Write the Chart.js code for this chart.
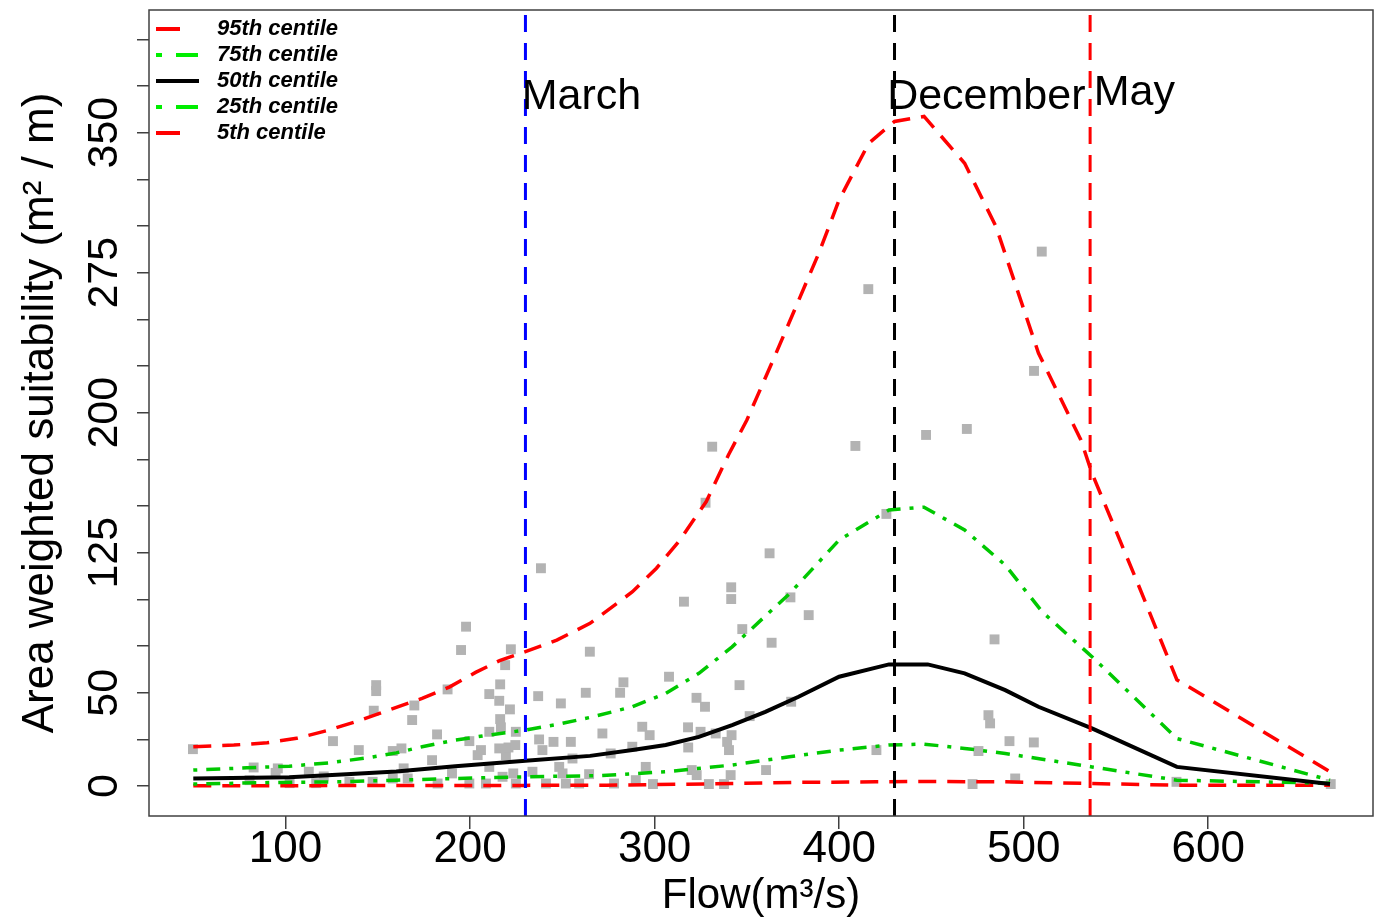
<!DOCTYPE html>
<html>
<head>
<meta charset="utf-8">
<script src="https://cdn.jsdelivr.net/npm/chart.js@4.4.1/dist/chart.umd.min.js"></script>
<style>
  body { margin: 0; background: #fff; }
  #wrap { width: 1380px; height: 922px; }
</style>
</head>
<body>
<div id="wrap"><canvas id="grafico"></canvas></div>
<script>
// observed flow (m3/s) and area weighted suitability
var flowObs = [49.8, 82.7, 95.8, 94.6, 112.6, 120.7, 80.5, 102.2, 116.6, 125.7, 139.7, 134.6,
  149.1, 149.1, 147.8, 147.2, 158.1, 158.1, 162.8, 164.0, 166.2, 169.8, 168.6, 179.4, 182.1,
  182.4, 187.8, 190.2, 195.1, 197.8, 199.6, 199.6, 204.1, 205.9, 208.6, 210.4, 210.4, 210.4,
  215.8, 216.3, 216.3, 216.7, 215.8, 219.4, 220.8, 217.6, 219.0, 221.6, 222.1, 223.4, 224.8,
  224.5, 224.8, 233.8, 236.9, 237.4, 238.4, 239.2, 241.1, 245.2, 248.3, 249.2, 250.1, 251.9,
  254.6, 255.5, 259.1, 262.7, 264.9, 264.5, 271.7, 276.2, 278.0, 281.3, 283.1, 287.9, 289.8,
  293.3, 295.2, 297.3, 299.1, 307.8, 315.9, 318.1, 318.2, 320.1, 322.8, 322.7, 327.3, 324.9,
  327.6, 331.2, 329.4, 333.1, 337.6, 339.3, 340.3, 341.2, 341.7, 341.5, 341.5, 346.0, 347.5,
  351.5, 360.4, 362.3, 363.4, 374.0, 373.6, 383.5, 408.8, 415.8, 420.2, 425.6, 447.1, 469.2,
  472.3, 475.5, 480.9, 481.8, 484.2, 492.3, 495.4, 505.5, 505.6, 509.8, 582.8, 666.4];
var suitObs = [19.8, 10.0, 9.5, 7.1, 7.7, 5.2, 3.2, 1.6, 1.6, 24.1, 19.3, 2.3,
  54.1, 50.9, 40.4, 2.3, 18.8, 4.1, 20.2, 9.5, 4.1, 43.2, 35.4, 13.9, 27.7,
  1.4, 51.8, 6.8, 72.9, 85.4, 24.1, 1.4, 16.6, 19.3, 1.4, 49.3, 29.1, 10.3,
  45.7, 54.5, 35.9, 31.5, 20.2, 16.6, 20.7, 5.0, 64.8, 41.1, 73.3, 6.8, 29.1,
  22.0, 1.4, 7.7, 48.2, 25.0, 116.7, 19.3, 1.4, 23.7, 10.3, 44.3, 6.8, 1.4,
  23.7, 14.8, 1.4, 50.0, 72.0, 6.4, 28.2, 17.5, 1.4, 50.0, 55.6, 21.1, 3.2,
  31.8, 10.3, 27.3, 1.1, 58.6, 98.8, 31.5, 20.7, 8.6, 5.9, 47.3, 42.5, 29.1,
  151.8, 181.8, 1.1, 28.2, 1.1, 23.7, 19.3, 5.9, 27.3, 106.5, 100.2, 54.1, 84.1,
  37.5, 8.6, 124.7, 76.8, 45.2, 101.1, 91.6, 182.2, 266.2, 19.3, 145.8, 188.1, 191.3,
  1.1, 18.8, 38.0, 33.6, 78.6, 24.1, 4.1, 23.4, 222.4, 286.3, 2.3, 1.1];

// centile curves
var flow95 = [50, 72, 90, 106, 122, 138, 155, 174, 189, 203, 216, 230, 247, 265, 288, 301, 313,
  328, 340, 350, 365, 389, 400, 416, 430, 446, 468, 485, 508, 531, 537, 560, 583, 666];
var cent95 = [21.1, 22, 23.2, 25.6, 29.6, 34.5, 40.4, 47, 53.2, 60.9, 67.2, 72, 78.2, 87.2, 104.1,
  116.7, 130.9, 152.4, 177.4, 196.1, 230, 285.5, 314, 344.3, 356, 358.7, 333.6, 299.7, 232, 185.4,
  167.6, 113, 57, 7.7];

var flow75 = [50, 79, 102, 124, 146, 160, 174, 192, 210, 230, 247, 265, 288, 306, 324, 342, 373,
  400, 427, 446, 468, 490, 510, 537, 583, 666];
var cent75 = [8.6, 9.8, 10.7, 12.5, 15.4, 17.8, 21.1, 24.7, 27.3, 30, 33, 36.8, 42.5, 49.7, 60.4,
  74.6, 103, 131.8, 147.9, 149.4, 137.2, 118.4, 93.4, 69.3, 25.5, 3.2];

var flow50 = [50, 102, 133, 160, 192, 230, 265, 288, 306, 324, 342, 360, 378, 400, 427, 448, 468,
  490, 508, 537, 583, 666];
var cent50 = [4.1, 4.7, 6.3, 7.8, 10.7, 13.6, 16.2, 19.3, 22, 26.4, 32.7, 39.8, 47.9, 58.6, 65.2,
  65.2, 60.4, 51.4, 42.5, 30.9, 10.3, 1.1];

var flow25 = [50, 97, 129, 160, 192, 230, 270, 306, 342, 373, 400, 427, 446, 468, 490, 537, 583, 666];
var cent25 = [1.1, 2, 2.3, 3.2, 4.1, 5, 5.6, 7.7, 11.3, 15.7, 19.3, 22, 22.5, 20.2, 17.5, 10.3, 3.2, 1.5];

var flow5 = [50, 150, 230, 274, 342, 378, 420, 446, 490, 537, 583, 666];
var cent5 = [0.2, 0.3, 0.4, 0.5, 1.4, 2, 2.3, 2.5, 2.3, 1.4, 0.5, 0.5];

// mean flow of the marked months
var monthNames = ['March', 'December', 'May'];
var monthFlows = [230, 430, 536];
var monthColors = ['#0000ff', '#000000', '#ff0000'];
var monthLabelFlow = [228, 426, 538];
var monthLabelY = [369, 369, 371];

var legendNames = ['95th centile', '75th centile', '50th centile', '25th centile', '5th centile'];
var yLabelsShown = [0, 50, 125, 200, 275, 350];

var xMin = 26, xMax = 689.3, yMin = -16, yMax = 415.7;

function pares(xs, ys) {
  return xs.map(function (v, i) { return { x: v, y: ys[i] }; });
}

var fonte = '"Liberation Sans", Arial, sans-serif';
var vermelho = '#ff0000';
var verde = '#00c800';
var tracoVermelho = [18, 11];
var tracoVerde = [4, 9, 14, 9];

function curva(label, xs, ys, cor, traco, largura) {
  return {
    type: 'line', label: label, data: pares(xs, ys), showLine: true,
    borderColor: cor, borderWidth: largura, borderDash: traco,
    pointRadius: 0, tension: 0, order: 5, fill: false
  };
}

var datasets = [{
  type: 'scatter', label: 'obs', data: pares(flowObs, suitObs),
  pointStyle: 'rect', pointRadius: 7, pointBorderWidth: 0,
  backgroundColor: '#b3b3b3', borderColor: '#b3b3b3', order: 10
},
  curva('95th centile', flow95, cent95, vermelho, tracoVermelho, 3.5),
  curva('75th centile', flow75, cent75, verde, tracoVerde, 3.5),
  curva('50th centile', flow50, cent50, '#000000', [], 4),
  curva('25th centile', flow25, cent25, verde, tracoVerde, 3.5),
  curva('5th centile', flow5, cent5, vermelho, tracoVermelho, 3.5)
];

monthFlows.forEach(function (f, i) {
  datasets.push({
    type: 'line', label: monthNames[i],
    data: [{ x: f, y: yMin }, { x: f, y: yMax }],
    borderColor: monthColors[i], borderWidth: 3, borderDash: [17, 11],
    pointRadius: 0, order: 1
  });
});

// frame, month names and legend drawn inside the plot area
const extras = {
  id: 'extras',
  afterDatasetsDraw(chart) {
    const ctx = chart.ctx;
    const a = chart.chartArea;
    const x = chart.scales.x, y = chart.scales.y;
    ctx.save();
    ctx.setLineDash([]);
    ctx.strokeStyle = '#404040';
    ctx.lineWidth = 1.5;
    ctx.strokeRect(a.left, a.top, a.right - a.left, a.bottom - a.top);

    ctx.fillStyle = '#000';
    ctx.font = '43px ' + fonte;
    ctx.textAlign = 'left';
    ctx.textBaseline = 'middle';
    monthNames.forEach(function (m, i) {
      ctx.fillText(m, x.getPixelForValue(monthLabelFlow[i]), y.getPixelForValue(monthLabelY[i]));
    });

    const cores = [vermelho, '#00ee00', '#000000', '#00ee00', vermelho];
    const tracos = [[24, 30], [6, 14, 22, 10], [], [6, 14, 22, 10], [24, 30]];
    ctx.font = 'italic bold 22px ' + fonte;
    legendNames.forEach(function (nome, i) {
      const ly = a.top + 19 + i * 26;
      ctx.beginPath();
      ctx.setLineDash(tracos[i]);
      ctx.strokeStyle = cores[i];
      ctx.lineWidth = 4;
      ctx.moveTo(a.left + 7, ly);
      ctx.lineTo(a.left + 50, ly);
      ctx.stroke();
      ctx.fillStyle = '#000';
      ctx.fillText(nome, a.left + 68, ly);
    });
    ctx.restore();
  }
};

new Chart(document.getElementById('grafico'), {
  type: 'scatter',
  data: { datasets: datasets },
  options: {
    responsive: true,
    maintainAspectRatio: false,
    animation: false,
    layout: { padding: { top: 10, right: 5, left: 0, bottom: 0 } },
    plugins: { legend: { display: false }, tooltip: { enabled: false } },
    scales: {
      x: {
        type: 'linear', min: xMin, max: xMax,
        afterFit: function (s) { s.height = 106; },
        border: { display: false },
        grid: { drawOnChartArea: false, tickLength: 13, color: '#404040', lineWidth: 1.5 },
        ticks: {
          stepSize: 100, includeBounds: false, color: '#000', padding: -6,
          font: { family: fonte, size: 44 }
        },
        title: {
          display: true, text: 'Flow(m³/s)', color: '#000',
          font: { family: fonte, size: 42 },
          padding: { top: 0, bottom: 0 }
        }
      },
      y: {
        type: 'linear', min: yMin, max: yMax,
        afterFit: function (s) { s.width = 149; s.paddingTop = 0; },
        border: { display: false },
        grid: { drawOnChartArea: false, tickLength: 12, color: '#404040', lineWidth: 1.5 },
        ticks: {
          stepSize: 25, includeBounds: false, autoSkip: false, color: '#000',
          minRotation: 90, maxRotation: 90, crossAlign: 'center', padding: -4,
          font: { family: fonte, size: 43 },
          callback: function (v) { return yLabelsShown.indexOf(v) >= 0 ? String(v) : ''; }
        },
        title: {
          display: true, text: 'Area weighted suitability (m² / m)', color: '#000',
          font: { family: fonte, size: 44 },
          padding: { top: 14, bottom: 0 }
        }
      }
    }
  },
  plugins: [extras]
});
</script>
</body>
</html>
